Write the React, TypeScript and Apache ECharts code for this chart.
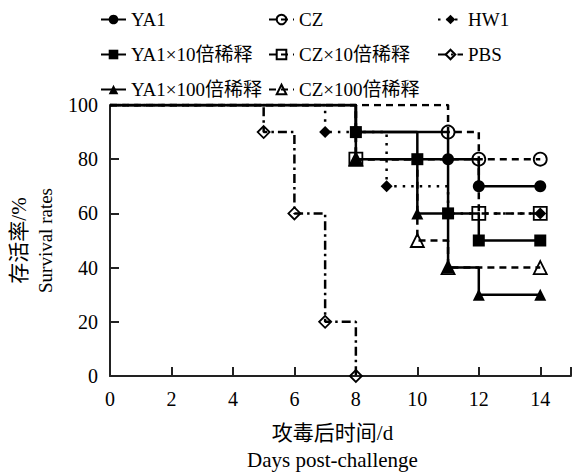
import React, { useEffect, useRef } from "react";
import * as echarts from "echarts";

const xTicks = [0, 2, 4, 6, 8, 10, 12, 14];
const yTicks = [0, 20, 40, 60, 80, 100];

const ya1Days = [0, 8, 11, 12, 14];
const ya1Rates = [100, 90, 80, 70, 70];
const ya1x10Days = [0, 8, 10, 11, 12, 14];
const ya1x10Rates = [100, 90, 80, 60, 50, 50];
const ya1x100Days = [0, 8, 10, 11, 12, 14];
const ya1x100Rates = [100, 80, 60, 40, 30, 30];
const czDays = [0, 11, 12, 14];
const czRates = [100, 90, 80, 80];
const czx10Days = [0, 8, 12, 14];
const czx10Rates = [100, 80, 60, 60];
const czx100Days = [0, 8, 10, 11, 14];
const czx100Rates = [100, 80, 50, 40, 40];
const hw1Days = [0, 7, 9, 11, 14];
const hw1Rates = [100, 90, 70, 60, 60];
const pbsDays = [0, 5, 6, 7, 8];
const pbsRates = [100, 90, 60, 20, 0];

const FONT = "'Liberation Serif', 'Noto Sans CJK SC', serif";

function toData(days: number[], rates: number[]) {
  return days.map((d, i) =>
    i === 0 ? { value: [d, rates[i]], symbol: "none" } : [d, rates[i]]
  );
}

function mkSeries(
  name: string,
  days: number[],
  rates: number[],
  symbol: string,
  size: number,
  filled: boolean,
  dash: any
) {
  return {
    name,
    type: "line",
    step: "end",
    data: toData(days, rates),
    symbol,
    symbolSize: size,
    lineStyle: { color: "#000", width: 2.5, type: dash },
    itemStyle: filled
      ? { color: "#000", borderColor: "#000", borderWidth: 0 }
      : { color: "transparent", borderColor: "#000", borderWidth: 1.8 },
    emphasis: { disabled: true },
  };
}

export default function App() {
  const ref = useRef<HTMLDivElement>(null);
  useEffect(() => {
    if (!ref.current) return;
    const chart = echarts.init(ref.current, null, { renderer: "svg" });
    const legendCommon = {
      orient: "vertical",
      top: 5,
      itemGap: 16,
      itemWidth: 25,
      itemHeight: 12,
      textStyle: { fontFamily: FONT, fontSize: 19, color: "#000" },
    };
    chart.setOption({
      animation: false,
      backgroundColor: "#fff",
      legend: [
        { ...legendCommon, left: 95, data: ["YA1", "YA1×10倍稀释", "YA1×100倍稀释"] },
        { ...legendCommon, left: 263, data: ["CZ", "CZ×10倍稀释", "CZ×100倍稀释"] },
        { ...legendCommon, left: 432, data: ["HW1", "PBS"] },
      ],
      grid: { left: 110, right: 1, top: 105, bottom: 89, containLabel: false },
      xAxis: {
        type: "value",
        min: 0,
        max: 15,
        interval: 2,
        name: "{cn|攻毒后时间/d}\n{en|Days post-challenge}",
        nameLocation: "middle",
        nameGap: 43,
        nameTextStyle: {
          fontFamily: FONT,
          color: "#000",
          padding: [0, 16, 0, 0],
          rich: {
            cn: { fontFamily: FONT, fontSize: 21, color: "#000", lineHeight: 27 },
            en: { fontFamily: FONT, fontSize: 21, color: "#000", lineHeight: 27 },
          },
        },
        axisLine: { lineStyle: { color: "#222", width: 2 } },
        axisTick: { inside: true, length: 9, lineStyle: { color: "#222", width: 2 } },
        axisLabel: {
          fontFamily: FONT,
          fontSize: 20,
          color: "#000",
          margin: 13,
          formatter: (v: number) => (xTicks.includes(v) ? String(v) : ""),
        },
        splitLine: { show: false },
      },
      yAxis: {
        type: "value",
        min: 0,
        max: 100,
        interval: 20,
        name: "{cn|存活率/%}\n{en|Survival rates}",
        nameLocation: "middle",
        nameGap: 51,
        nameTextStyle: {
          fontFamily: FONT,
          color: "#000",
          rich: {
            cn: { fontFamily: FONT, fontSize: 21, color: "#000", lineHeight: 27 },
            en: { fontFamily: FONT, fontSize: 19, color: "#000", lineHeight: 27 },
          },
        },
        axisLine: { show: true, lineStyle: { color: "#222", width: 2 } },
        axisTick: { show: true, inside: true, length: 9, lineStyle: { color: "#222", width: 2 } },
        axisLabel: {
          fontFamily: FONT,
          fontSize: 20,
          color: "#000",
          margin: 12,
          formatter: (v: number) => (yTicks.includes(v) ? String(v) : ""),
        },
        splitLine: { show: false },
      },
      series: [
        mkSeries("PBS", pbsDays, pbsRates, "diamond", 12, false, [9, 4, 2.5, 4]),
        mkSeries("HW1", hw1Days, hw1Rates, "diamond", 12, true, [2.5, 6]),
        mkSeries("CZ", czDays, czRates, "circle", 13, false, [7, 5]),
        mkSeries("CZ×10倍稀释", czx10Days, czx10Rates, "rect", 13, false, [7, 5]),
        mkSeries("CZ×100倍稀释", czx100Days, czx100Rates, "triangle", 13, false, [7, 5]),
        mkSeries("YA1", ya1Days, ya1Rates, "circle", 12, true, "solid"),
        mkSeries("YA1×10倍稀释", ya1x10Days, ya1x10Rates, "rect", 12, true, "solid"),
        mkSeries("YA1×100倍稀释", ya1x100Days, ya1x100Rates, "triangle", 12, true, "solid"),
      ],
    });
    return () => chart.dispose();
  }, []);
  return (
    <div
      ref={ref}
      style={{ position: "absolute", left: 0, top: 0, width: 574, height: 475 }}
    />
  );
}
